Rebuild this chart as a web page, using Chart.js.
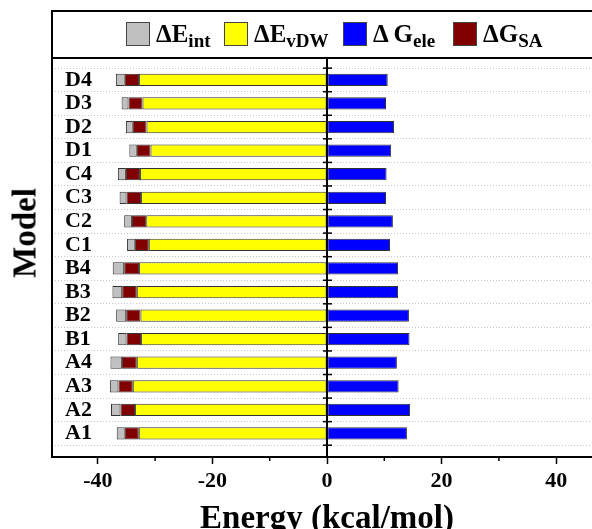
<!DOCTYPE html>
<html>
<head>
<meta charset="utf-8">
<script src="https://cdn.jsdelivr.net/npm/chart.js"></script>
<style>
  html, body { margin: 0; padding: 0; background: #fff; overflow: hidden; }
  #wrap { position: relative; width: 620px; height: 529px; }
  #legend {
    position: absolute; left: 51px; top: 10px; width: 580px; height: 47px;
    border: 2px solid #000; border-bottom: none;
    font-family: "Liberation Serif", serif; font-weight: bold; font-size: 25px; color: #000;
  }
  .item { position: absolute; top: 0; height: 43px; display: flex; align-items: center; white-space: nowrap; }
  .sw { width: 22px; height: 22px; border: 1px solid #444; margin-right: 6px; }
  .item sub { font-size: 19px; vertical-align: baseline; position: relative; top: 7px; }
  #ytitle {
    position: absolute; left: 24.5px; top: 233px;
    transform: translate(-50%, -50%) rotate(-90deg);
    font-family: "Liberation Serif", serif; font-weight: bold; font-size: 33px; line-height: 1; color: #000;
  }
</style>
</head>
<body>
<div id="wrap">
  <canvas id="grafico" width="620" height="529"></canvas>
  <div id="legend">
    <span class="item" style="left:73px"><span class="sw" style="background:#c0c0c0"></span>ΔE<sub>int</sub></span>
    <span class="item" style="left:171px"><span class="sw" style="background:#ffff00"></span>ΔE<sub>vDW</sub></span>
    <span class="item" style="left:290px"><span class="sw" style="background:#0000ff"></span>Δ G<sub>ele</sub></span>
    <span class="item" style="left:400px"><span class="sw" style="background:#800000"></span>ΔG<sub>SA</sub></span>
  </div>
  <div id="ytitle">Model</div>
</div>
<script>
    // Dados (kcal/mol), de baixo para cima: A1 ... D4
    const modelos = ['A1','A2','A3','A4','B1','B2','B3','B4','C1','C2','C3','C4','D1','D2','D3','D4'];
    const eVdw = [-32.85,-33.5,-33.9,-33.2,-32.45,-32.55,-33.2,-32.8,-31.1,-31.55,-32.45,-32.65,-30.8,-31.5,-32.2,-32.8];
    const gSa  = [-2.45,-2.55,-2.5,-2.6,-2.55,-2.5,-2.55,-2.6,-2.45,-2.5,-2.55,-2.45,-2.4,-2.4,-2.45,-2.5];
    const eInt = [-1.4,-1.65,-1.5,-2.0,-1.45,-1.75,-1.7,-2.0,-1.35,-1.35,-1.2,-1.4,-1.3,-1.2,-1.2,-1.55];
    const gEle = [13.95,14.5,12.5,12.2,14.4,14.3,12.4,12.4,11.0,11.5,10.3,10.4,11.2,11.7,10.3,10.6];
    const xTicks = [-40,-20,0,20,40];
    const xMinorTicks = [-30,-10,10,30];

    const fonte = 'Liberation Serif, serif';

    function serie(valores) {
        return valores.map((v, i) => ({ x: v, y: i }));
    }

    // moldura, linha do zero e marcas menores
    const moldura = {
        id: 'moldura',
        afterDatasetsDraw(chart) {
            const { ctx, chartArea: a, scales: { x, y } } = chart;
            const x0 = x.getPixelForValue(0);
            ctx.save();
            ctx.strokeStyle = '#000';
            ctx.lineWidth = 2;
            ctx.beginPath();
            ctx.moveTo(x0, a.top);
            ctx.lineTo(x0, a.bottom);
            ctx.stroke();
            ctx.lineWidth = 1.5;
            for (let i = 0; i <= modelos.length; i++) {
                const py = y.getPixelForValue(i - 0.5);
                ctx.beginPath();
                ctx.moveTo(x0 - 4, py);
                ctx.lineTo(x0 + 5, py);
                ctx.stroke();
            }
            xMinorTicks.forEach(v => {
                const px = x.getPixelForValue(v);
                ctx.beginPath();
                ctx.moveTo(px, a.bottom);
                ctx.lineTo(px, a.bottom + 4);
                ctx.stroke();
            });
            ctx.lineWidth = 2;
            ctx.strokeRect(a.left, a.top, a.right - a.left, a.bottom - a.top);
            ctx.restore();
        }
    };

    const dataBarra = {
        datasets: [
            { label: 'ΔEvDW', data: serie(eVdw), backgroundColor: '#ffff00' },
            { label: 'ΔGSA',  data: serie(gSa),  backgroundColor: '#800000' },
            { label: 'ΔEint', data: serie(eInt), backgroundColor: '#c0c0c0' },
            { label: 'ΔGele', data: serie(gEle), backgroundColor: '#0000ff' }
        ]
    };
    dataBarra.datasets.forEach(d => {
        d.borderColor = '#333';
        d.borderWidth = 1;
        d.borderSkipped = false;
        d.barPercentage = 0.52;
        d.categoryPercentage = 1;
    });

    const configBarra = {
        type: 'bar',
        data: dataBarra,
        options: {
            indexAxis: 'y',
            responsive: false,
            animation: false,
            layout: { padding: { top: 58, right: 18, left: 0, bottom: -10 } },
            scales: {
                x: {
                    type: 'linear',
                    stacked: true,
                    min: -48,
                    max: 48,
                    afterBuildTicks: (s) => { s.ticks = xTicks.map(v => ({ value: v })); },
                    grid: { drawOnChartArea: false, drawTicks: true, tickLength: 7, tickWidth: 1.5, tickColor: '#000' },
                    border: { display: false },
                    ticks: { color: '#000', padding: 4, font: { family: fonte, size: 22, weight: 'bold' } },
                    title: {
                        display: true,
                        text: 'Energy (kcal/mol)',
                        color: '#000',
                        font: { family: fonte, size: 33, weight: 'bold' },
                        padding: { top: 1, bottom: 0 }
                    }
                },
                y: {
                    type: 'linear',
                    stacked: true,
                    offset: false,
                    min: -1,
                    max: 15.93,
                    afterBuildTicks: (s) => { s.ticks = modelos.map((m, i) => ({ value: i })); },
                    afterFit: (s) => { s.width = 52; },
                    grid: { offset: true, drawTicks: false, color: '#c8c8c8', lineWidth: 1 },
                    border: { display: false, dash: [1, 2] },
                    ticks: {
                        mirror: true,
                        autoSkip: false,
                        padding: 13,
                        color: '#000',
                        font: { family: fonte, size: 22, weight: 'bold' },
                        callback: (v) => modelos[v]
                    },
                    title: { display: false }
                }
            },
            plugins: {
                legend: { display: false },
                tooltip: { enabled: false }
            }
        },
        plugins: [moldura]
    };

    const ctxBarra = document.getElementById('grafico').getContext('2d');
    const graficoBarra = new Chart(ctxBarra, configBarra);
</script>
</body>
</html>
